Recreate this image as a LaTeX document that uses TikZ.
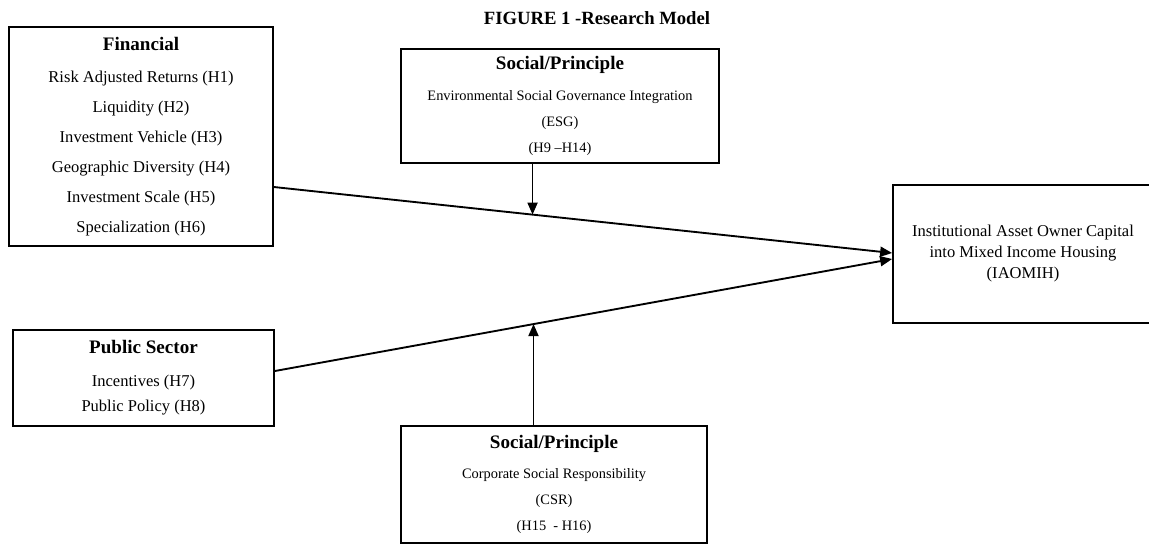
\documentclass[tikz,border=0pt]{standalone}
\usepackage{fontspec}
\setmainfont{Liberation Serif}
\usetikzlibrary{positioning, calc, arrows, arrows.meta}
\tikzset{>={Triangle[length=9pt, width=7.5pt]}}
\tikzset{factor box/.style={draw, line width=1.3pt, align=center, inner sep=0pt}}
\newcommand{\headtext}[1]{{\fontsize{14.3}{17}\selectfont\bfseries #1}}

\begin{document}
\begin{tikzpicture}
    [x=0.75pt, y=-0.75pt,
      link/.style={->, line width=1.4pt},
      body/.style={font=\fontsize{12.4}{22.4}\selectfont},
      small body/.style={font=\fontsize{10.8}{19.5}\selectfont}]
    \useasboundingbox (0,0) rectangle (1149,544);

    \node[font=\fontsize{14}{16}\selectfont\bfseries] (title) at (597,18) {FIGURE 1 -Research Model};

    \node[factor box, body, minimum width=198pt, minimum height=164.25pt] (fin) at (141,136.5)
      {\headtext{Financial}\\[1.6pt] Risk Adjusted Returns (H1)\\ Liquidity (H2)\\ Investment Vehicle (H3)\\
       Geographic Diversity (H4)\\ Investment Scale (H5)\\ Specialization (H6)};

    \node[factor box, body, font=\fontsize{12.4}{18.75}\selectfont, minimum width=195.75pt, minimum height=72pt] (pub) at (143.5,378)
      {\headtext{Public Sector}\\[6pt] Incentives (H7)\\ Public Policy (H8)};

    \node[factor box, small body, minimum width=238.5pt, minimum height=85.5pt] (esg) at (560,106)
      {\headtext{Social/Principle}\\[3.5pt] Environmental Social Governance Integration\\ (ESG)\\ (H9 --H14)};

    \node[factor box, small body, minimum width=229.5pt, minimum height=87.75pt] (csr) at (554,484.5)
      {\headtext{Social/Principle}\\[3pt] Corporate Social Responsibility\\ (CSR)\\ (H15\ \ - H16)};

    \node[factor box, font=\fontsize{12.4}{15.75}\selectfont, minimum width=195pt, minimum height=103.5pt] (iaomih) at (1023,254)
      {Institutional Asset Owner Capital\\ into Mixed Income Housing\\ (IAOMIH)};

    % line ends
    \coordinate (fin out) at (fin.east |- 0,187);
    \coordinate (pub out) at (pub.east |- 0,371);
    \coordinate (in up) at (iaomih.west |- 0,253);
    \coordinate (in down) at (iaomih.west |- 0,259);
    \coordinate (esg hit) at ($(fin out)!0.4184!(in up)$);
    \coordinate (csr hit) at ($(pub out)!0.419!(in down)$);

    \draw[link] (fin out) -- (in up);
    \draw[link] (pub out) -- (in down);

    \draw[link] (esg.south -| esg hit) -- (esg hit);
    \draw[link] (csr.north -| csr hit) -- (csr hit);
  \end{tikzpicture}
\end{document}
